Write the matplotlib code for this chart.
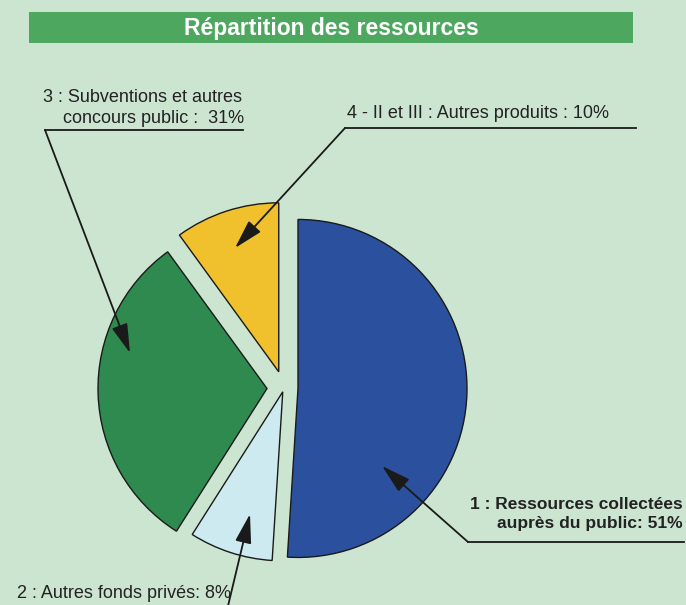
import matplotlib.pyplot as plt
from matplotlib.patches import Rectangle

# Chart data
sliceNames = ['1 : Ressources collectées\nauprès du public: 51%',
              '2 : Autres fonds privés: 8%',
              '3 : Subventions et autres\n    concours public :  31%',
              '4 - II et III : Autres produits : 10%']
sliceValues = [51, 8, 31, 10]
sliceColors = ['#2a509e', '#cdeaf0', '#2e8a4e', '#f0c12c']
chartTitle = 'Répartition des ressources'

plt.rcParams['font.family'] = ['Liberation Sans', 'DejaVu Sans']

W, H = 686, 605
fig = plt.figure(figsize=(W / 100, H / 100), dpi=100, facecolor='#cce5d0')
ax = fig.add_axes([0, 0, 1, 1])
ax.set_facecolor('#cce5d0')

# Pie, drawn in pixel-like data coordinates (explode is in data units here)
ax.pie(sliceValues, colors=sliceColors, explode=[14, 4, 17, 17], startangle=90,
       counterclock=False, center=(284, H - 388), radius=169,
       wedgeprops=dict(edgecolor='#1a1a1a', linewidth=1.0))

ax.set_xlim(0, W)
ax.set_ylim(0, H)
ax.set_aspect('equal')
ax.axis('off')

# Title bar
ax.add_patch(Rectangle((29, H - 43), 604, 31, facecolor='#4ea75e', edgecolor='none'))
ax.text(331, H - 29, chartTitle, ha='center', va='center', color='white',
        fontsize=16.5, fontweight='bold')

lineColor = '#1a1a1a'
textColor = '#222222'
arrowProps = dict(arrowstyle='-|>,head_length=0.9,head_width=0.25', color=lineColor,
                  lw=1.3, shrinkA=0, shrinkB=0, mutation_scale=20)

# Label 1 (right)
ax.text(683, H - 514, sliceNames[0], ha='right', va='center', fontsize=12.5,
        fontweight='bold', color=textColor, linespacing=1.4)
ax.plot([468, 684], [H - 542, H - 542], color=lineColor, lw=1.3)
ax.annotate('', xy=(382, H - 466), xytext=(468, H - 542), arrowprops=arrowProps)

# Label 2 (bottom left)
ax.text(17, H - 594, sliceNames[1], ha='left', va='center', fontsize=13, color=textColor)
ax.annotate('', xy=(250, H - 514), xytext=(228, H - 606), arrowprops=arrowProps)

# Label 3 (top left)
ax.text(43, H - 108, sliceNames[2], ha='left', va='center', fontsize=13,
        color=textColor, linespacing=1.35)
ax.plot([45, 243], [H - 130, H - 130], color=lineColor, lw=1.3)
ax.annotate('', xy=(130, H - 353), xytext=(45, H - 130), arrowprops=arrowProps)

# Label 4 (top right)
ax.text(347, H - 113, sliceNames[3], ha='left', va='center', fontsize=13, color=textColor)
ax.plot([345, 636], [H - 128, H - 128], color=lineColor, lw=1.3)
ax.annotate('', xy=(235, H - 248), xytext=(345, H - 128), arrowprops=arrowProps)

fig.savefig('out.png', dpi=100, facecolor=fig.get_facecolor())
